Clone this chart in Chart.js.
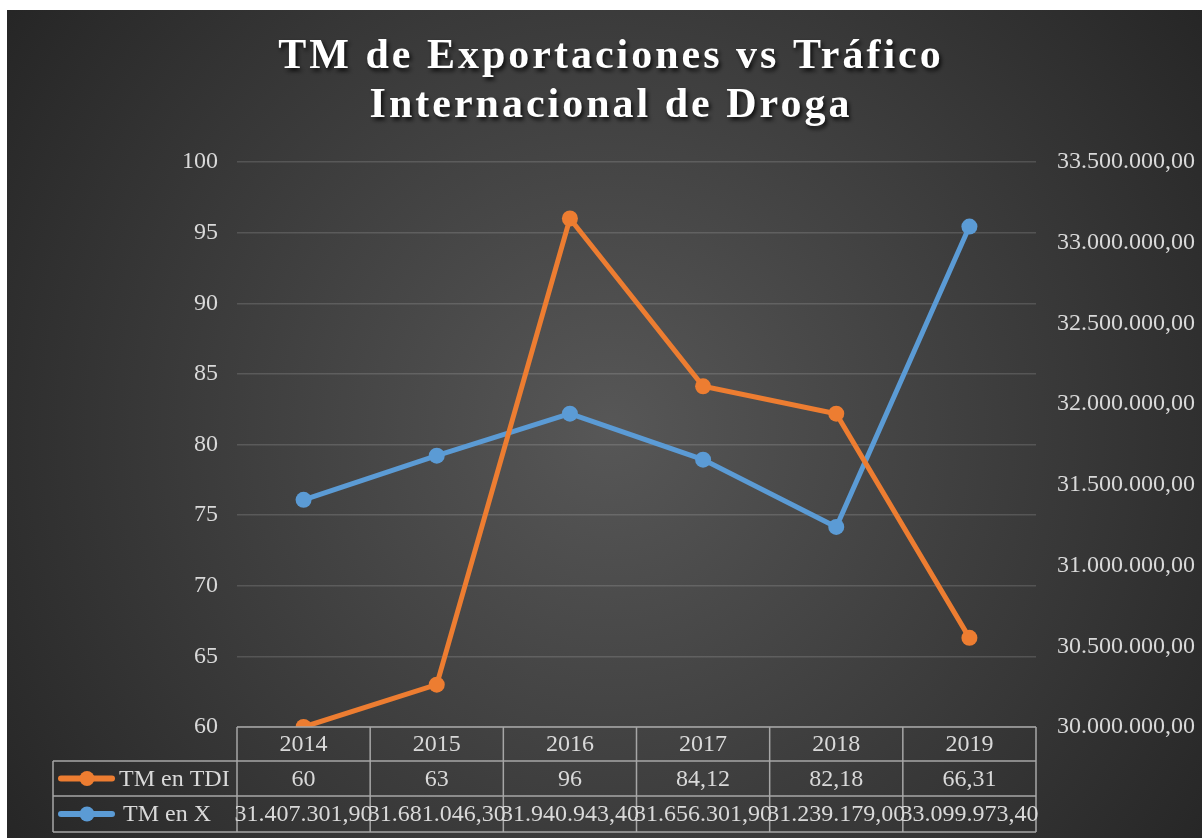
<!DOCTYPE html>
<html>
<head>
<meta charset="utf-8">
<script src="https://cdn.jsdelivr.net/npm/chart.js@4/dist/chart.umd.min.js"></script>
<style>
    html, body { margin: 0; padding: 0; background: #fff; }
    canvas { display: block; }
</style>
</head>
<body>
<canvas id="chart" width="1202" height="838"></canvas>
<script>
// Chart data
const years = ['2014', '2015', '2016', '2017', '2018', '2019'];
const tdiValues = [60, 63, 96, 84.12, 82.18, 66.31];
const exportValues = [31407301.90, 31681046.30, 31940943.40, 31656301.90, 31239179.00, 33099973.40];
const seriesNames = ['TM en TDI', 'TM en X'];
const titleLines = ['TM de Exportaciones vs Tráfico', 'Internacional de Droga'];

const ORANGE = '#ED7D31';
const BLUE = '#5B9BD5';
const TEXT = '#d9d9d9';
const SERIF = "'Liberation Serif', 'Times New Roman', serif";

// Spanish style number format: 33.500.000,00
function formatEs(num, decimals) {
    const parts = num.toFixed(decimals).split('.');
    parts[0] = parts[0].replace(/\B(?=(\d{3})+(?!\d))/g, '.');
    return parts.join(',');
}

function formatTdi(num) {
    return Number.isInteger(num) ? String(num) : formatEs(num, 2);
}

// Background + title
const backgroundPlugin = {
    id: 'background',
    beforeDraw(chart) {
        const ctx = chart.ctx;
        ctx.save();
        ctx.fillStyle = '#ffffff';
        ctx.fillRect(0, 0, chart.width, chart.height);
        const grad = ctx.createRadialGradient(610, 430, 0, 610, 430, 760);
        grad.addColorStop(0, '#575757');
        grad.addColorStop(1, '#242424');
        ctx.fillStyle = grad;
        ctx.fillRect(7, 10, chart.width - 7, chart.height - 10);

        // title
        ctx.font = 'bold 42px ' + SERIF;
        ctx.letterSpacing = '3px';
        ctx.textAlign = 'center';
        ctx.textBaseline = 'middle';
        ctx.fillStyle = '#ffffff';
        ctx.shadowColor = 'rgba(0,0,0,0.8)';
        ctx.shadowBlur = 4;
        ctx.shadowOffsetX = 2;
        ctx.shadowOffsetY = 3;
        ctx.fillText(titleLines[0], 611, 57);
        ctx.fillText(titleLines[1], 611, 106);
        ctx.restore();
    }
};

// Data table under the plot
const dataTablePlugin = {
    id: 'dataTable',
    afterDraw(chart) {
        const ctx = chart.ctx;
        const x = chart.scales.x;
        const area = chart.chartArea;
        const half = (x.getPixelForValue(1) - x.getPixelForValue(0)) / 2;
        const rows = [area.bottom, area.bottom + 34, area.bottom + 69, area.bottom + 105];
        const legendLeft = 53;

        ctx.save();
        ctx.strokeStyle = '#a6a6a6';
        ctx.lineWidth = 1.5;
        ctx.beginPath();
        // horizontal lines
        ctx.moveTo(area.left, rows[0]); ctx.lineTo(area.right, rows[0]);
        for (let r = 1; r < rows.length; r++) {
            ctx.moveTo(legendLeft, rows[r]); ctx.lineTo(area.right, rows[r]);
        }
        // vertical lines
        for (let i = 0; i <= years.length; i++) {
            const px = i < years.length ? x.getPixelForValue(i) - half : area.right;
            ctx.moveTo(px, rows[0]); ctx.lineTo(px, rows[3]);
        }
        ctx.moveTo(legendLeft, rows[1]); ctx.lineTo(legendLeft, rows[3]);
        ctx.stroke();

        ctx.font = '24px ' + SERIF;
        ctx.fillStyle = TEXT;
        ctx.textAlign = 'center';
        ctx.textBaseline = 'middle';
        years.forEach((y, i) => {
            const cx = x.getPixelForValue(i);
            ctx.fillText(y, cx, (rows[0] + rows[1]) / 2 + 1);
            ctx.fillText(formatTdi(tdiValues[i]), cx, (rows[1] + rows[2]) / 2 + 1);
            ctx.fillText(formatEs(exportValues[i], 2), cx, (rows[2] + rows[3]) / 2 + 1);
        });

        // legend keys
        const colors = [ORANGE, BLUE];
        seriesNames.forEach((name, r) => {
            const cy = (rows[r + 1] + rows[r + 2]) / 2;
            ctx.strokeStyle = colors[r];
            ctx.lineWidth = 6;
            ctx.lineCap = 'round';
            ctx.beginPath();
            ctx.moveTo(61, cy); ctx.lineTo(112, cy);
            ctx.stroke();
            ctx.fillStyle = colors[r];
            ctx.beginPath();
            ctx.arc(87, cy, 7.5, 0, Math.PI * 2);
            ctx.fill();
            ctx.fillStyle = TEXT;
            ctx.textAlign = 'left';
            ctx.fillText(name, r === 0 ? 119 : 123, cy + 1);
        });
        ctx.restore();
    }
};

const ctx = document.getElementById('chart').getContext('2d');
const chart = new Chart(ctx, {
    type: 'line',
    data: {
        labels: years,
        datasets: [{
            label: seriesNames[0],
            data: tdiValues,
            yAxisID: 'y',
            borderColor: ORANGE,
            backgroundColor: ORANGE,
            borderWidth: 5,
            pointRadius: 8,
            pointBorderWidth: 0,
            tension: 0
        }, {
            label: seriesNames[1],
            data: exportValues,
            yAxisID: 'y1',
            borderColor: BLUE,
            backgroundColor: BLUE,
            borderWidth: 5,
            pointRadius: 8,
            pointBorderWidth: 0,
            tension: 0
        }]
    },
    options: {
        responsive: false,
        animation: false,
        layout: {
            padding: { top: 162, bottom: 111, left: 0, right: 0 }
        },
        plugins: {
            legend: { display: false },
            title: { display: false },
            tooltip: { enabled: false }
        },
        scales: {
            x: {
                display: false,
                offset: true
            },
            y: {
                position: 'left',
                min: 60,
                max: 100,
                afterFit: scale => { scale.width = 237; },
                border: { display: false },
                grid: {
                    color: 'rgba(255,255,255,0.14)',
                    lineWidth: 1.5,
                    drawTicks: false
                },
                ticks: {
                    stepSize: 5,
                    padding: 19,
                    color: TEXT,
                    font: { family: SERIF, size: 24 }
                }
            },
            y1: {
                position: 'right',
                min: 30000000,
                max: 33500000,
                afterFit: scale => { scale.width = 166; },
                border: { display: false },
                grid: { display: false, drawTicks: false },
                ticks: {
                    stepSize: 500000,
                    padding: 21,
                    color: TEXT,
                    font: { family: SERIF, size: 24 },
                    callback: value => formatEs(value, 2)
                }
            }
        }
    },
    plugins: [backgroundPlugin, dataTablePlugin]
});
</script>
</body>
</html>
